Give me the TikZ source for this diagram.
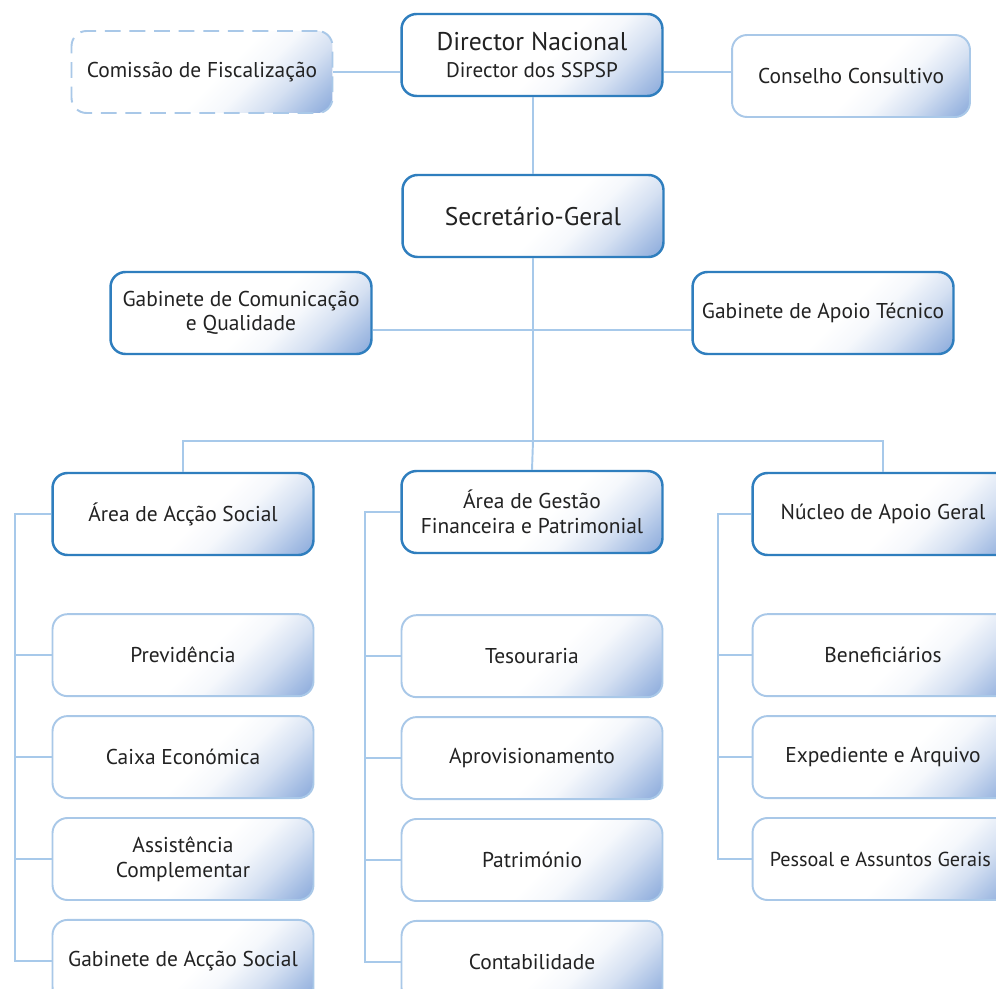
\documentclass[tikz,border=0pt]{standalone}
\usepackage{fontspec}
\setmainfont{PT Sans}
\usepackage{xcolor}
\usepackage{tikz}
\usetikzlibrary{positioning}
\definecolor{boxdark}{HTML}{2F7EBE}
\definecolor{boxlight}{HTML}{A9C8E8}
\definecolor{linkblue}{HTML}{A7C9EA}
\definecolor{shadeblue}{HTML}{86A7DA}
\definecolor{textgray}{HTML}{222222}
\pgfdeclareverticalshading{cornerfade}{100bp}{color(0bp)=(shadeblue); color(14bp)=(shadeblue); color(20bp)=(shadeblue!75!white); color(29bp)=(shadeblue!35!white); color(38bp)=(shadeblue!8!white); color(46bp)=(white); color(100bp)=(white)}
\tikzstyle{unit}=   [rectangle,
rounded corners=0.3cm,
minimum width=5.22cm,
minimum height=1.64cm,
align=center,
text=textgray,
shading=cornerfade,
shading angle=45,
]
\tikzstyle{head}=   [unit,
draw=boxdark,
line width=1.4pt,
]
\tikzstyle{sub}=    [unit,
draw=boxlight,
line width=1.1pt,
]
\tikzstyle{link}=   [draw=linkblue,
line width=1.1pt,
]

\begin{document}
\begin{tikzpicture}[x=0.02cm, y=-0.02cm, font=\fontsize{12.2}{14}\selectfont]
        \clip (0,0) rectangle (996,989);
        \fill[white] (0,0) rectangle (996,989);
        % top level
        \node[head] (director) at (532,55) {\fontsize{14.6}{16}\selectfont Director Nacional\\[1pt]\fontsize{12}{13}\selectfont Director dos SSPSP};
        \node[sub, dashed, dash pattern=on 9pt off 5pt] (comissao) at (202,72) {Comissão de Fiscalização};
        \node[sub, minimum width=4.76cm] (conselho) at (851,76) {Conselho Consultivo};
        \node[head, font=\fontsize{14.5}{16}\selectfont] (secretario) at (533,216) {Secretário-Geral};
        \node[head] (gab_com) at (241,313) {Gabinete de Comunicação\\e Qualidade};
        \node[head] (gab_apoio) at (823,313) {Gabinete de Apoio Técnico};

        % areas
        \node[head] (area_social) at (183,514) {Área de Acção Social};
        \node[head] (area_gestao) at (532,512) {Área de Gestão\\Financeira e Patrimonial};
        \node[head] (nucleo) at (883,514) {Núcleo de Apoio Geral};

        % area de accao social
        \node[sub, below=1.14cm of area_social] (previdencia) {Previdência};
        \node[sub, below=0.36cm of previdencia] (caixa) {Caixa Económica};
        \node[sub, below=0.36cm of caixa] (assistencia) {Assistência\\Complementar};
        \node[sub, below=0.36cm of assistencia] (gab_social) {Gabinete de Acção Social};

        % area de gestao
        \node[sub, below=1.2cm of area_gestao] (tesouraria) {Tesouraria};
        \node[sub, below=0.36cm of tesouraria] (aprovisionamento) {Aprovisionamento};
        \node[sub, below=0.36cm of aprovisionamento] (patrimonio) {Património};
        \node[sub, below=0.36cm of patrimonio] (contabilidade) {Contabilidade};

        % nucleo
        \node[sub, below=1.14cm of nucleo] (beneficiarios) {Beneficiários};
        \node[sub, below=0.36cm of beneficiarios] (expediente) {Expediente e Arquivo};
        \node[sub, below=0.36cm of expediente, font=\fontsize{11.5}{14}\selectfont] (pessoal) {Pessoal e Assuntos Gerais\hspace*{3pt}};

        \coordinate (gab_bar) at (533,330);
        \coordinate (bus) at (533,441);
        \coordinate (spine_social) at (15,0);
        \coordinate (spine_gestao) at (365,0);
        \coordinate (spine_nucleo) at (718,0);

        \draw[link] (comissao.east) -- (comissao.east -| director.west);
        \draw[link] (director.east |- comissao.east) -- (conselho.west |- comissao.east);
        \draw[link] (secretario.north) -- (secretario.north |- director.south);
        \draw[link] (gab_com.east |- gab_bar) -- (gab_apoio.west |- gab_bar);
        \draw[link] (secretario.south) -- (bus);
        \draw[link] (area_social.north) |- (bus) -| (nucleo.north);
        \draw[link] (bus) -- (area_gestao.north);

        \draw[link] (area_social.west) -| (spine_social |- gab_social.west) -- (gab_social.west);
        \draw[link] (previdencia.west) -- (spine_social |- previdencia.west)
        (caixa.west) -- (spine_social |- caixa.west)
        (assistencia.west) -- (spine_social |- assistencia.west);

        \draw[link] (area_gestao.west) -| (spine_gestao |- contabilidade.west) -- (contabilidade.west);
        \draw[link] (tesouraria.west) -- (spine_gestao |- tesouraria.west)
        (aprovisionamento.west) -- (spine_gestao |- aprovisionamento.west)
        (patrimonio.west) -- (spine_gestao |- patrimonio.west);

        \draw[link] (nucleo.west) -| (spine_nucleo |- pessoal.west) -- (pessoal.west);
        \draw[link] (beneficiarios.west) -- (spine_nucleo |- beneficiarios.west)
        (expediente.west) -- (spine_nucleo |- expediente.west);
    \end{tikzpicture}
\end{document}
